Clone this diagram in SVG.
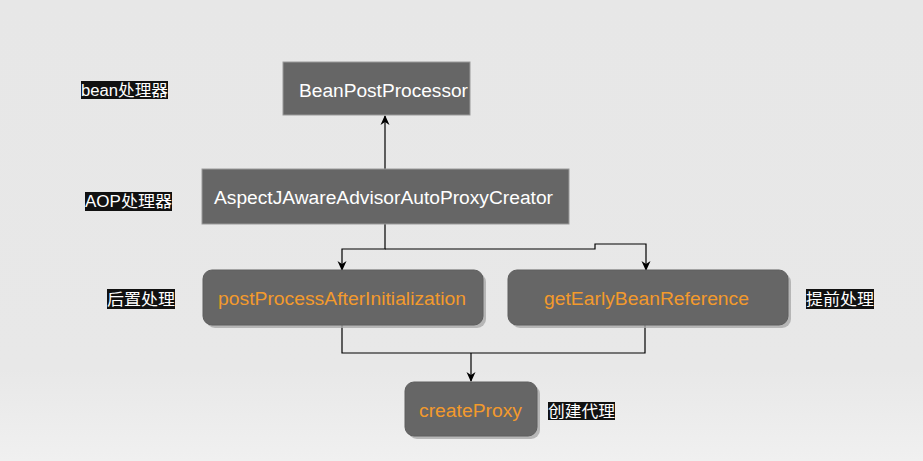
<svg xmlns="http://www.w3.org/2000/svg" width="923" height="461" viewBox="0 0 923 461">
<defs>
<linearGradient id="bg" x1="0" y1="0" x2="0" y2="1">
<stop offset="0" stop-color="#e7e7e7"/>
<stop offset="0.8" stop-color="#e8e8e8"/>
<stop offset="1" stop-color="#f0f0f0"/>
</linearGradient>
<marker id="arr" markerWidth="10" markerHeight="10" refX="9" refY="5" orient="auto" markerUnits="userSpaceOnUse">
<path d="M0,0.5 L10,5 L0,9.5 L3,5 Z" fill="#000"/>
</marker>
</defs>
<style>
.box{fill:#666666;stroke:#9a9a9a;stroke-width:1}
.rbox{fill:#666666;stroke:#5e5e5e;stroke-width:1}
.shadow{fill:#a9a9a9;opacity:0.8}
.t{font-family:"Liberation Sans",Arial,sans-serif;font-size:18px;fill:#ffffff}
.o{font-family:"Liberation Sans",Arial,sans-serif;font-size:18px;fill:#f39a2c}
.lbg{fill:#111111}
.l{font-family:"Liberation Sans","Noto Sans CJK SC",sans-serif;font-size:16px;fill:#ffffff}
.c{fill:none;stroke:#000;stroke-width:1.2}
</style>
<rect width="923" height="461" fill="url(#bg)"/>

<g id="connectors">
<path class="c" d="M385,169 V116" marker-end="url(#arr)"/>
<path class="c" d="M385,224 V249 H342 V270" marker-end="url(#arr)"/>
<path class="c" d="M385,249 H595 V244 H646 V270" marker-end="url(#arr)"/>
<path class="c" d="M342,325 V353 H645 V325"/>
<path class="c" d="M471,353 V381" marker-end="url(#arr)"/>
</g>

<g id="label-bean">
<rect class="lbg" x="81" y="81" width="87" height="18"/>
<text class="l" x="81" y="96" textLength="87" lengthAdjust="spacingAndGlyphs">bean处理器</text>
</g>
<g id="BeanPostProcessor">
<rect class="box" x="283" y="62" width="187" height="53"/>
<text class="t" x="299" y="97" textLength="169" lengthAdjust="spacingAndGlyphs">BeanPostProcessor</text>
</g>

<g id="label-aop">
<rect class="lbg" x="85" y="192" width="87" height="19"/>
<text class="l" x="85" y="207" textLength="87" lengthAdjust="spacingAndGlyphs">AOP处理器</text>
</g>
<g id="AspectJAwareAdvisorAutoProxyCreator">
<rect class="box" x="202" y="169" width="367" height="55"/>
<text class="t" x="214" y="204" textLength="339" lengthAdjust="spacingAndGlyphs">AspectJAwareAdvisorAutoProxyCreator</text>
</g>

<g id="label-post">
<rect class="lbg" x="107" y="289" width="68" height="20"/>
<text class="l" x="107" y="305" textLength="68" lengthAdjust="spacingAndGlyphs">后置处理</text>
</g>
<g id="postProcessAfterInitialization">
<rect class="shadow" x="206" y="273" width="280" height="55" rx="9"/>
<rect class="rbox" x="203" y="270" width="280" height="55" rx="9"/>
<text class="o" x="218" y="305" textLength="248" lengthAdjust="spacingAndGlyphs">postProcessAfterInitialization</text>
</g>

<g id="getEarlyBeanReference">
<rect class="shadow" x="511" y="273" width="280" height="55" rx="9"/>
<rect class="rbox" x="508" y="270" width="280" height="55" rx="9"/>
<text class="o" x="544" y="305" textLength="205" lengthAdjust="spacingAndGlyphs">getEarlyBeanReference</text>
</g>
<g id="label-early">
<rect class="lbg" x="806" y="289" width="68" height="20"/>
<text class="l" x="806" y="305" textLength="68" lengthAdjust="spacingAndGlyphs">提前处理</text>
</g>

<g id="createProxy">
<rect class="shadow" x="408" y="385" width="132" height="54" rx="9"/>
<rect class="rbox" x="405" y="382" width="132" height="54" rx="9"/>
<text class="o" x="419" y="417" textLength="103" lengthAdjust="spacingAndGlyphs">createProxy</text>
</g>
<g id="label-create">
<rect class="lbg" x="548" y="402" width="67" height="18"/>
<text class="l" x="548" y="417" textLength="67" lengthAdjust="spacingAndGlyphs">创建代理</text>
</g>
</svg>
